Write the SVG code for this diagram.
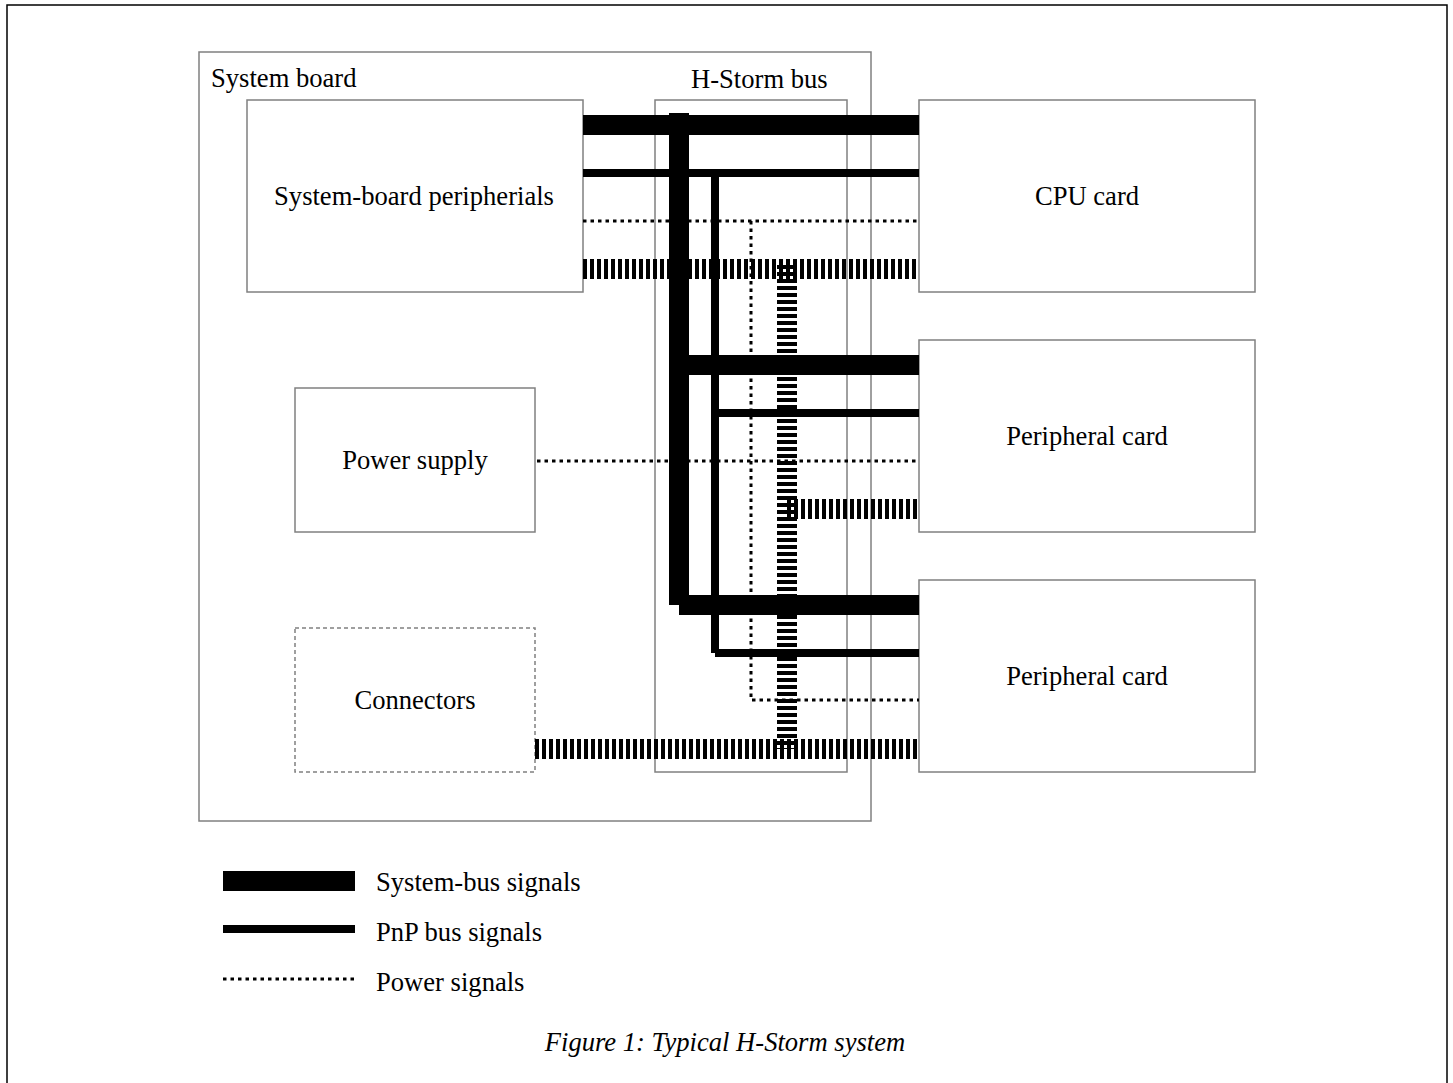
<svg xmlns="http://www.w3.org/2000/svg" width="1453" height="1083" viewBox="0 0 1453 1083">
<style>
.box{fill:#fff;stroke:#808080;stroke-width:1.5}
.dbox{fill:#fff;stroke:#808080;stroke-width:1.5;stroke-dasharray:4 3}
.t{font-family:"Liberation Serif","Times New Roman",serif;font-size:26.6px;fill:#000}
.c{text-anchor:middle}
.sys{stroke:#000;stroke-width:20;fill:none}
.pnp{stroke:#000;stroke-width:8;fill:none}
.pwr{stroke:#000;stroke-width:3;fill:none;stroke-dasharray:3.5 4}
.bars{stroke:#000;stroke-width:20;fill:none;stroke-dasharray:4 3}
</style>
<rect x="0" y="0" width="1453" height="1083" fill="#fff"/>
<rect x="7" y="5" width="1440" height="1090" fill="none" stroke="#000" stroke-width="1.5"/>
<g id="system-board">
<rect class="box" x="199" y="52" width="672" height="769" stroke="#606060"/>
<text class="t" x="211" y="87">System board</text>
</g>
<g id="hstorm-bus">
<rect class="box" x="655" y="100" width="192" height="672"/>
<text class="t" x="691" y="88">H-Storm bus</text>
</g>
<g id="sb-peripherals">
<rect class="box" x="247" y="100" width="336" height="192"/>
<text class="t c" x="414" y="205">System-board peripherials</text>
</g>
<g id="power-supply">
<rect class="box" x="295" y="388" width="240" height="144"/>
<text class="t c" x="415" y="469">Power supply</text>
</g>
<g id="connectors">
<rect class="dbox" x="295" y="628" width="240" height="144"/>
<text class="t c" x="415" y="709">Connectors</text>
</g>
<g id="cpu-card">
<rect class="box" x="919" y="100" width="336" height="192"/>
<text class="t c" x="1087" y="205">CPU card</text>
</g>
<g id="peripheral-card-1">
<rect class="box" x="919" y="340" width="336" height="192"/>
<text class="t c" x="1087" y="445">Peripheral card</text>
</g>
<g id="peripheral-card-2">
<rect class="box" x="919" y="580" width="336" height="192"/>
<text class="t c" x="1087" y="685">Peripheral card</text>
</g>
<g id="connectors-lines">
<line class="pwr" x1="583" y1="221" x2="919" y2="221"/>
<polyline class="pwr" points="751,221 751,700 919,700"/>
<line class="pwr" x1="537" y1="461" x2="919" y2="461"/>
<line class="bars" x1="583" y1="269" x2="919" y2="269"/>
<line class="bars" x1="787" y1="509" x2="919" y2="509"/>
<line class="bars" x1="535" y1="749" x2="919" y2="749"/>
<line class="bars" x1="787" y1="265" x2="787" y2="749"/>
<line class="sys" x1="583" y1="125" x2="919" y2="125"/>
<line class="sys" x1="679" y1="113" x2="679" y2="605"/>
<line class="sys" x1="689" y1="365" x2="919" y2="365"/>
<line class="sys" x1="679" y1="605" x2="919" y2="605"/>
<line class="pnp" x1="583" y1="173" x2="919" y2="173"/>
<line class="pnp" x1="715" y1="177" x2="715" y2="653"/>
<line class="pnp" x1="719" y1="413" x2="919" y2="413"/>
<line class="pnp" x1="715" y1="653" x2="919" y2="653"/>
</g>
<g id="legend">
<line class="sys" x1="223" y1="881" x2="355" y2="881"/>
<text class="t" x="376" y="891">System-bus signals</text>
<line class="pnp" x1="223" y1="929" x2="355" y2="929"/>
<text class="t" x="376" y="941">PnP bus signals</text>
<line class="pwr" x1="223" y1="979" x2="355" y2="979"/>
<text class="t" x="376" y="991">Power signals</text>
</g>
<text class="t c" x="725" y="1051" font-style="italic">Figure 1: Typical H-Storm system</text>
</svg>
